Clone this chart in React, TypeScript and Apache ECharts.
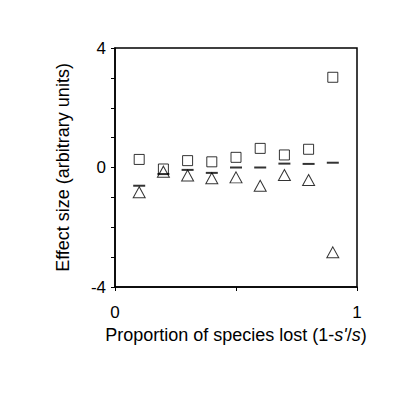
import React, { useEffect, useRef } from "react";
import * as echarts from "echarts";

const xValues = [0.1, 0.2, 0.3, 0.4, 0.5, 0.6, 0.7, 0.8, 0.9];
const squareValues = [0.27, -0.05, 0.23, 0.19, 0.34, 0.64, 0.42, 0.61, 3.02];
const meanValues = [-0.61, -0.22, -0.08, -0.18, 0.0, 0.0, 0.13, 0.12, 0.16];
const triangleValues = [-0.83, -0.14, -0.27, -0.36, -0.33, -0.61, -0.25, -0.42, -2.84];
const yTickLabels = [-4, 0, 4];
const xTickLabels = [0, 1];

const FONT = "'Liberation Sans', Arial, sans-serif";

export default function App() {
  const ref = useRef<HTMLDivElement>(null);
  useEffect(() => {
    if (!ref.current) return;
    const chart = echarts.init(ref.current, null, { renderer: "svg" });
    const pair = (vals: number[]) => xValues.map((x, i) => [x, vals[i]]);
    chart.setOption({
      animation: false,
      backgroundColor: "#ffffff",
      grid: { left: 115, top: 48, right: 55, bottom: 106, show: true, borderColor: "#000", borderWidth: 1.5, backgroundColor: "transparent" },
      xAxis: {
        type: "value",
        min: 0,
        max: 1,
        interval: 0.5,
        name: "{n|Proportion of species lost (1-}{i|s'}{n|/}{i|s}{n|)}",
        nameLocation: "middle",
        nameGap: 36,
        nameTextStyle: {
          rich: {
            n: { fontFamily: FONT, fontSize: 18, color: "#000" },
            i: { fontFamily: FONT, fontSize: 18, color: "#000", fontStyle: "italic" },
          },
        },
        axisLine: { onZero: false, lineStyle: { color: "#000", width: 1.5 } },
        axisTick: { length: 4, lineStyle: { color: "#000" } },
        axisLabel: {
          margin: 17,
          fontFamily: FONT,
          fontSize: 17,
          color: "#000",
          formatter: (v: number) => (xTickLabels.includes(v) ? String(v) : ""),
        },
        splitLine: { show: false },
      },
      yAxis: {
        type: "value",
        min: -4,
        max: 4,
        interval: 1,
        name: "Effect size (arbitrary units)",
        nameLocation: "middle",
        nameGap: 43,
        nameTextStyle: { fontFamily: FONT, fontSize: 18, color: "#000" },
        axisLine: { onZero: false, lineStyle: { color: "#000", width: 1.5 } },
        axisTick: { length: 4, lineStyle: { color: "#000" } },
        axisLabel: {
          margin: 9,
          fontFamily: FONT,
          fontSize: 17,
          color: "#000",
          formatter: (v: number) => (yTickLabels.includes(v) ? String(v) : ""),
        },
        splitLine: { show: false },
      },
      series: [
        {
          type: "scatter",
          data: pair(squareValues),
          symbol: "rect",
          symbolSize: 10,
          itemStyle: { color: "#fff", borderColor: "#000", borderWidth: 1 },
        },
        {
          type: "scatter",
          data: pair(triangleValues),
          symbol: "triangle",
          symbolSize: [12, 11],
          itemStyle: { color: "#fff", borderColor: "#000", borderWidth: 1 },
        },
        {
          type: "scatter",
          data: pair(meanValues),
          symbol: "rect",
          symbolSize: [12, 2],
          itemStyle: { color: "#000" },
        },
      ],
    });
    return () => chart.dispose();
  }, []);
  return <div ref={ref} style={{ width: 412, height: 393, position: "absolute", left: 0, top: 0 }} />;
}
